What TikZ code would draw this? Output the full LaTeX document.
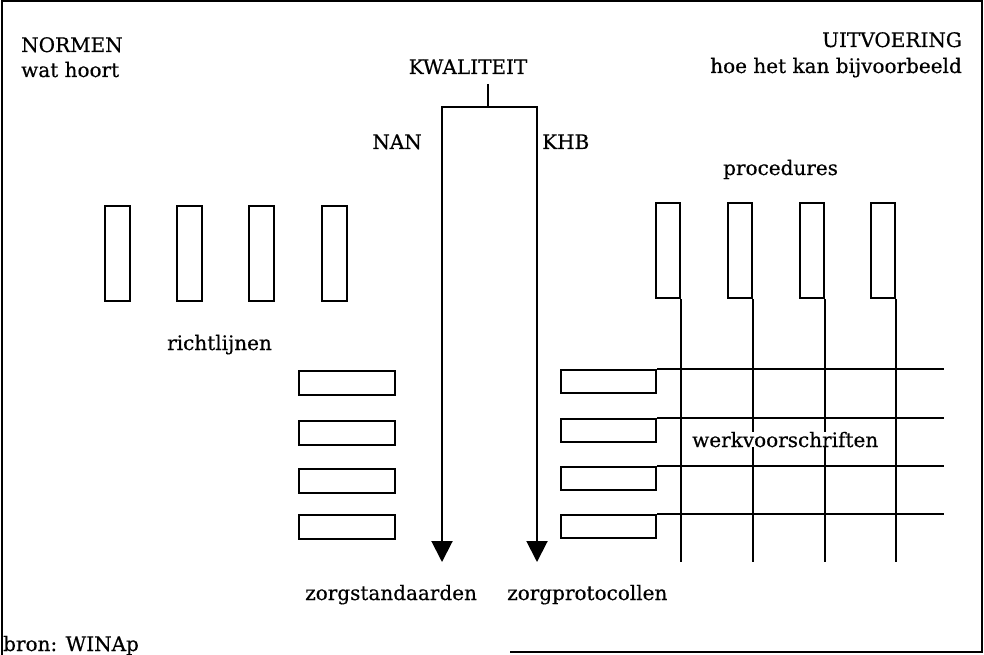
\documentclass[tikz,border=0pt]{standalone}
\usepackage{fontspec}
\setmainfont[FakeBold=0.5]{DejaVu Serif}
\usetikzlibrary{arrows.meta}
\tikzset{
  lbl/.style={inner sep=0pt, font=\fontsize{20}{24}\selectfont},
  tallbox/.style={draw, line width=2pt, inner sep=0pt, minimum width=24pt, minimum height=95pt},
  flatbox/.style={draw, line width=2pt, inner sep=0pt, minimum width=96pt, minimum height=24pt},
  rule/.style={line width=2pt},
  flow/.style={line width=2pt, line join=miter,
    {Triangle[width=21pt,length=21pt]}-{Triangle[width=21pt,length=21pt]}},
}
\begin{document}
\begin{tikzpicture}[x=1pt,y=-1pt]
\useasboundingbox (0,0) rectangle (984,655);

% frame
\draw[line width=1.6pt] (510,652) -- (982,652) -- (982,1) -- (2,1) -- (2,655);

% headings
\node[lbl, anchor=base west] (normen) at (21,52) {NORMEN};
\node[lbl, anchor=base west] (wat) at (21,77) {wat hoort};
\node[lbl, anchor=base east] (uitv) at (962,47) {UITVOERING};
\node[lbl, anchor=base east] (hoe) at (962,73) {hoe het kan bijvoorbeeld};

% central quality split
\node[lbl, anchor=base] (kwal) at (468,74) {KWALITEIT};
\node[lbl, anchor=base east] (nan) at (422,149) {NAN};
\node[lbl, anchor=base west] (khb) at (542,149) {KHB};
\coordinate (stemTop) at (488,84);
\coordinate (fork) at (488,107);
\coordinate (nanTop) at (442,107);
\coordinate (khbTop) at (537,107);
\coordinate (nanEnd) at (442,562);
\coordinate (khbEnd) at (537,562);
\draw[rule] (stemTop) -- (fork);
\draw[flow] (nanEnd) -- (nanTop) -- (khbTop) -- (khbEnd);

% norms: guidelines and care standards
\foreach \i/\x in {1/117.5, 2/189.5, 3/261.5, 4/334.5}
  \node[tallbox, minimum width=25pt] (r\i) at (\x,253.5) {};
\node[lbl, anchor=base west] (richt) at (167,350) {richtlijnen};
\foreach \i/\y in {1/383, 2/432.5, 3/480.5, 4/527}
  \node[flatbox] (s\i) at (346.5,\y) {};

% execution: procedures and work instructions
\node[lbl, anchor=base west] (proc) at (723,175) {procedures};
\foreach \i/\x in {1/667.5, 2/740, 3/812, 4/883}
  \node[tallbox] (p\i) at (\x,250.5) {};
\foreach \i/\y in {1/381.5, 2/430, 3/478.5, 4/526.5}
  \node[flatbox, minimum width=95pt, minimum height=23pt] (w\i) at (608.5,\y) {};

\coordinate (gridBottom) at (0,562);
\coordinate (gridRight) at (944,0);
\foreach \i in {1,...,4}
  \draw[rule] (p\i.south east) -- (p\i.south east |- gridBottom);
\foreach \i in {1,...,4}
  \draw[rule] (w\i.north east) -- (w\i.north east -| gridRight);
\node[lbl, anchor=base west, fill=white, inner xsep=1pt] (werk) at (691,447) {werkvoorschriften};

% results
\node[lbl, anchor=base west] (zstd) at (305,600) {zorgstandaarden};
\node[lbl, anchor=base west] (zprot) at (507,600) {zorgprotocollen};

% source
\node[lbl, anchor=base west] (bron) at (3,651) {bron: WINAp};
\end{tikzpicture}
\end{document}
